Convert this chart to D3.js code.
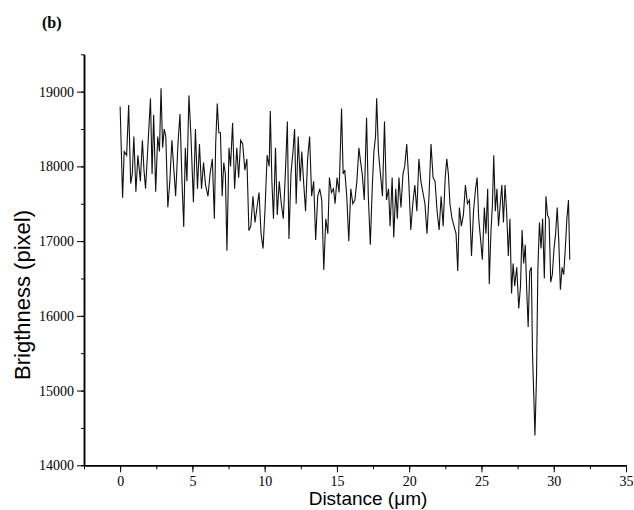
<!DOCTYPE html>
<html>
<head>
<meta charset="utf-8">
<script src="https://cdn.jsdelivr.net/npm/d3@7"></script>
<style>
  body { margin: 0; background: #fff; }
</style>
</head>
<body>
<svg id="plotSVG" width="634" height="510"></svg>
<script>
let distance = [
  0.00, 0.17, 0.28, 0.45, 0.59, 0.73, 0.84, 0.95, 1.09, 1.23, 1.40, 1.54, 1.65, 1.76, 1.93,
  2.10, 2.21, 2.32, 2.46, 2.60, 2.72, 2.83, 2.94, 3.05, 3.16, 3.30, 3.44, 3.58, 3.72, 3.84,
  4.00, 4.14, 4.28, 4.40, 4.51, 4.62, 4.76, 4.90, 5.07, 5.21, 5.35, 5.49, 5.63, 5.77, 5.91,
  6.08, 6.22, 6.38, 6.52, 6.61, 6.72, 6.83, 6.94, 7.06, 7.17, 7.28, 7.39, 7.53, 7.64, 7.78,
  7.92, 8.07, 8.20, 8.34, 8.48, 8.63, 8.77, 8.91, 9.04, 9.19, 9.33, 9.47, 9.61, 9.75, 9.89,
  10.03, 10.17, 10.31, 10.39, 10.50, 10.61, 10.75, 10.87, 11.01, 11.15, 11.29, 11.43, 11.57, 11.68, 11.82,
  11.96, 12.07, 12.18, 12.32, 12.46, 12.57, 12.69, 12.83, 12.97, 13.11, 13.25, 13.39, 13.53, 13.67, 13.81,
  13.95, 14.09, 14.23, 14.37, 14.48, 14.62, 14.76, 14.87, 15.01, 15.15, 15.32, 15.43, 15.54, 15.68, 15.82,
  15.96, 16.10, 16.24, 16.38, 16.52, 16.61, 16.75, 16.89, 17.05, 17.17, 17.31, 17.45, 17.56, 17.67, 17.75,
  17.87, 18.01, 18.15, 18.29, 18.43, 18.57, 18.68, 18.82, 18.93, 19.07, 19.18, 19.29, 19.43, 19.57, 19.69,
  19.83, 19.97, 20.11, 20.25, 20.39, 20.53, 20.67, 20.81, 20.95, 21.09, 21.23, 21.37, 21.51, 21.65, 21.79,
  21.93, 22.07, 22.21, 22.35, 22.49, 22.60, 22.71, 22.82, 22.96, 23.10, 23.24, 23.36, 23.47, 23.61, 23.75,
  23.89, 24.03, 24.17, 24.31, 24.45, 24.59, 24.70, 24.81, 24.95, 25.06, 25.20, 25.31, 25.43, 25.54, 25.65,
  25.76, 25.85, 25.96, 26.07, 26.18, 26.30, 26.41, 26.52, 26.63, 26.74, 26.86, 26.97, 27.08, 27.19, 27.30,
  27.44, 27.58, 27.70, 27.81, 27.92, 28.03, 28.14, 28.23, 28.34, 28.45, 28.53, 28.64, 28.70, 28.81, 28.90,
  29.01, 29.12, 29.23, 29.35, 29.46, 29.57, 29.68, 29.79, 29.90, 30.02, 30.13, 30.24, 30.35, 30.46, 30.58,
  30.69, 30.80, 30.91, 31.02, 31.11
]

let brightness = [
  18800, 17580, 18200, 18150, 18820, 17770, 17900, 18400, 17660, 18150, 17800, 18350, 17950, 17700, 18300,
  18910, 17900, 18690, 17660, 18400, 18200, 19045, 18250, 18500, 18400, 17455, 17800, 18350, 17950, 17600,
  18300, 18700, 17800, 17190, 18250, 17800, 18950, 18400, 17520, 18500, 17700, 18300, 17700, 18050, 17750,
  17600, 17900, 18100, 17300, 18300, 18840, 18450, 18450, 17600, 18050, 17900, 16870, 18250, 18000, 18580,
  17700, 18250, 17850, 18350, 18300, 17950, 18100, 17140, 17200, 17600, 17250, 17450, 17650, 17100, 16900,
  17450, 18150, 18000, 18740, 17800, 17300, 18250, 17350, 17800, 17500, 17300, 17900, 18600, 17030, 17900,
  18200, 18500, 17500, 18400, 17800, 18200, 17800, 17400, 18100, 18400, 17600, 17800, 17015, 17600, 17700,
  17550, 16615, 17300, 17100, 17850, 17650, 17700, 17500, 17850, 17650, 18775, 17900, 17950, 17600, 17000,
  17700, 17500, 17550, 17800, 18250, 18100, 17900, 17550, 18650, 17600, 16950, 17750, 18200, 18400, 18910,
  18200, 17900, 17600, 18600, 17550, 17700, 17200, 17850, 17050, 17700, 17300, 17850, 17450, 17900, 18000,
  18300, 17800, 17150, 17500, 17750, 17400, 18100, 17800, 17650, 17500, 17100, 17600, 18300, 17850, 17800,
  17400, 17150, 17600, 17200, 17850, 18100, 17900, 17500, 17300, 17200, 17100, 16600, 17450, 17200, 17350,
  17750, 17500, 17550, 16800, 17400, 17700, 17850, 17300, 17000, 16750, 17450, 17100, 17700, 16425, 17100,
  17500, 18150, 17400, 17700, 17200, 17500, 17750, 17250, 17750, 17400, 16800, 17300, 16300, 16700, 16400,
  16650, 16100, 16400, 17150, 16700, 16950, 16300, 15850, 16600, 16650, 15500, 14800, 14400, 15200, 16600,
  17250, 16900, 17300, 16500, 17600, 17350, 17300, 16450, 16550, 16900, 17100, 17450, 17000, 16350, 16650,
  16550, 16900, 17300, 17550, 16750
]

let xTicks = [0, 5, 10, 15, 20, 25, 30, 35]
let yTicks = [14000, 15000, 16000, 17000, 18000, 19000]

let svg = d3.select("#plotSVG")

let xScale = d3.scaleLinear()
  .domain([-2.5, 35])
  .range([84, 626])

let yScale = d3.scaleLinear()
  .domain([14000, 19500])
  .range([465.3, 54.3])

// minor ticks first, then the labelled ones on top
svg.append("g")
  .attr("transform", "translate(0,465.3)")
  .call(d3.axisBottom(xScale)
          .tickValues(d3.range(-2.5, 35.1, 2.5))
          .tickFormat("")
          .tickSize(4)
          .tickSizeOuter(0))

svg.append("g")
  .attr("id", "xAxis")
  .attr("transform", "translate(0,465.3)")
  .call(d3.axisBottom(xScale)
          .tickValues(xTicks)
          .tickSize(7)
          .tickSizeOuter(0)
          .tickPadding(4))

svg.append("g")
  .attr("transform", "translate(84,0)")
  .call(d3.axisLeft(yScale)
          .tickValues(d3.range(14000, 19501, 500))
          .tickFormat("")
          .tickSize(3)
          .tickSizeOuter(0))

svg.append("g")
  .attr("id", "yAxis")
  .attr("transform", "translate(84,0)")
  .call(d3.axisLeft(yScale)
          .tickValues(yTicks)
          .tickFormat(d3.format("d"))
          .tickSize(7)
          .tickSizeOuter(0)
          .tickPadding(3))

svg.selectAll(".domain")
  .attr("stroke", "#000")
  .attr("stroke-width", 1.5)

svg.selectAll("#xAxis text, #yAxis text")
  .style("font-family", "'Liberation Serif', 'Times New Roman', serif")
  .style("font-size", "14px")
  .attr("fill", "#000")

let profile = distance.map((d, i) => ({ x: d, y: brightness[i] }))

svg.append("path")
  .datum(profile)
  .attr("fill", "none")
  .attr("stroke", "#111")
  .attr("stroke-width", 1.1)
  .attr("d", d3.line()
          .x(d => xScale(d.x))
          .y(d => yScale(d.y)))

svg.append("text")
  .attr("x", 368)
  .attr("y", 505)
  .attr("text-anchor", "middle")
  .style("font-family", "'Liberation Sans', Arial, sans-serif")
  .style("font-size", "19px")
  .text("Distance (μm)")

svg.append("text")
  .attr("transform", "translate(30,295) rotate(-90)")
  .attr("text-anchor", "middle")
  .style("font-family", "'Liberation Sans', Arial, sans-serif")
  .style("font-size", "22px")
  .text("Brigthness (pixel)")

svg.append("text")
  .attr("x", 42)
  .attr("y", 28)
  .style("font-family", "'Liberation Serif', 'Times New Roman', serif")
  .style("font-weight", "bold")
  .style("font-size", "16px")
  .text("(b)")
</script>
</body>
</html>
